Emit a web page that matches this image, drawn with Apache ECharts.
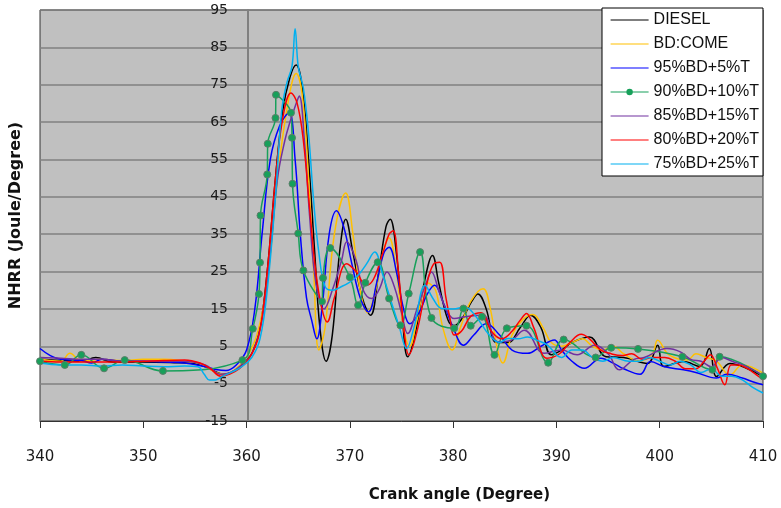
<!DOCTYPE html>
<html>
<head>
<meta charset="utf-8">
<title>NHRR vs crank angle</title>
<script src="https://cdn.jsdelivr.net/npm/echarts@6/dist/echarts.min.js"></script>
<style>
  html, body { margin: 0; padding: 0; background: #fff; }
  #chart { width: 781px; height: 508px; }
</style>
</head>
<body>
<div id="chart"></div>
<script>
// series names, in legend order
var seriesNames = ["DIESEL", "BD:COME", "95%BD+5%T", "90%BD+10%T", "85%BD+15%T", "80%BD+20%T", "75%BD+25%T"];

// [crank angle, NHRR]
var diesel = [[340,1.5],[342,1.2],[344,1.0],[345.4,2.0],[347,0.8],[350,0.8],[353,0.6],[355,0.3],[356,-0.5],[357,-1.8],[357.8,-2.5],[358.5,-2.0],[359.5,0],[360.5,3],[361.3,10],[362,25],[362.8,50],[363.5,68],[364.2,77],[364.8,80.3],[365.4,74],[366,55],[366.6,30],[367.1,10],[367.7,1],[368.3,8],[369,30],[369.6,39],[370.3,30],[371.2,18],[372,13.3],[372.8,25],[373.5,37],[373.9,39],[374.5,30],[375.1,12],[375.6,2.2],[376.3,8],[377.2,22],[378,29.3],[378.6,22],[379.5,12],[380.1,10.5],[381,13],[381.8,17],[382.4,19],[383.2,15],[384.2,6],[385.3,6],[386.5,10],[387.5,13.3],[388.5,10],[389.5,2.7],[390.5,4],[391.5,6],[393.2,7.5],[394.8,2.2],[396.5,2],[398.8,0.4],[399.8,5.3],[400.4,-0.4],[402.3,0.9],[403.9,-0.4],[404.8,4.4],[405.5,-3.1],[406.8,0.4],[408.5,-1],[410,-3.1]];
var bdCome = [[340,1.5],[342,1.0],[342.9,3.1],[344,1.0],[346,1.5],[348,1.2],[350,1.5],[352,1.5],[354,1.0],[355.5,0.3],[357,-2],[358,-2.5],[359,-1],[360,2],[361,8],[362,22],[363,50],[364,70],[364.8,78],[365.4,72],[366,50],[366.5,25],[367,4],[367.6,10],[368.5,35],[369.6,46],[370.3,35],[371,20],[371.7,14],[372.5,20],[373.2,30],[373.8,34],[374.5,25],[375.2,10],[375.8,5],[376.5,12],[377.5,22],[378.3,20],[379,10],[379.9,4],[380.7,10],[381.7,17],[382.9,20.4],[383.6,15],[384.3,4],[384.8,0.5],[385.7,8],[386.7,12],[387.7,13.5],[388.7,10],[389.5,6],[390.5,5],[391.5,6],[392.5,7],[393.5,5],[394.5,4],[395.5,5],[396.5,3],[398,1],[399.3,3],[399.8,6.6],[400.9,2.7],[402.7,1.3],[403.5,3],[404.5,2],[405.5,1],[406.8,-2.7],[408,0],[410,-2.2]];
var bd95 = [[340,4.4],[341,2.5],[342,1.5],[344,1.2],[345,0.5],[346,1.5],[348,1.0],[350,1.0],[352,0.8],[354,0.5],[356,-0.5],[357,-1.2],[358,-1.5],[359,0],[360,4],[360.8,15],[361.5,35],[362.3,55],[363.2,64],[364.1,67.5],[364.7,55],[365.2,35],[365.8,18],[366.3,12],[366.8,7],[367.3,15],[368,35],[368.7,41.3],[369.4,37],[370.2,27],[371,18],[371.8,14.2],[372.6,22],[373.3,30],[373.8,31.5],[374.5,25],[375.2,15],[375.8,11],[376.7,14],[377.5,19],[378.2,21.3],[379,17],[380,10],[381,5.3],[382,8],[383.2,11],[384.5,8],[385.7,4],[387.2,3.1],[388.5,5],[389.8,6.7],[390.5,4],[391.5,1],[392.7,-0.9],[394.3,1.8],[395.5,0.5],[396.5,-1],[398.1,-2.5],[399.1,0.9],[400.5,-0.5],[402.3,-1.3],[403.5,-2],[405.5,-3.5],[406.5,-2.5],[408,-3.5],[409,-4.5],[410,-5.3]];
var bd90 = [[340,1.0],[342.4,0.0],[344.0,2.7],[346.2,-0.9],[348.2,1.3],[351.9,-1.6],[359.6,1.3],[360.6,9.7],[361.2,19],[361.3,27.4],[361.35,40],[362.0,51],[362.05,59.2],[362.8,66.1],[362.85,72.3],[364.3,67.5],[364.4,60.8],[364.45,48.5],[365.0,35.2],[365.5,25.3],[367.3,17],[367.4,23.3],[368.1,31.3],[370.0,23.5],[370.8,16],[371.5,22],[372.7,27.5],[373.8,17.8],[374.9,10.6],[375.7,19.1],[376.8,30.2],[377.9,12.6],[380.1,9.8],[381.0,15.1],[381.7,10.5],[382.8,12.9],[384.0,2.7],[385.2,9.8],[387.1,10.5],[389.2,0.6],[390.7,6.8],[393.8,2.0],[395.3,4.6],[397.9,4.3],[402.2,2.2],[405.1,-1.3],[405.8,2.2],[410,-3.0]];
var bd85 = [[340,2.0],[342,1.8],[344,1.5],[346,1.5],[348,1.0],[350,1.0],[352,1.0],[354,1.0],[356,0],[357.5,-2.5],[358.5,-2],[359.5,0],[360.5,3],[361.5,12],[362.3,30],[363,50],[363.7,60],[364.2,65],[364.8,70],[365.1,72],[365.6,60],[366.1,40],[366.7,22],[367.5,15],[368.3,20],[369.2,28],[369.7,33],[370.6,28],[371.3,20],[372.1,17.8],[372.8,20],[373.6,24.9],[374.3,21],[375,14],[375.6,8.4],[376.5,15],[377.4,22],[377.9,24.9],[378.6,20],[379.3,15],[380.1,12.4],[381.3,13],[382.9,13.3],[384.3,6.2],[385.5,6.5],[386.9,9.3],[388.8,3.1],[390.5,4],[392,2.7],[393.7,5.3],[395,3],[396.1,-1.3],[397.5,1.5],[398.5,2],[400.7,4.4],[402,3.5],[403,1.5],[404,1],[405,-0.5],[406,2],[407,1],[408.5,-0.5],[410,-2.8]];
var bd80 = [[340,1.0],[342,0.8],[344,0.8],[346,0.8],[348,0.8],[350,1.0],[352,1.2],[354,1.3],[355.5,0.5],[356.5,-1],[357.5,-3],[358.3,-2.5],[359.3,-1],[360.3,2],[361.2,8],[362,25],[362.8,50],[363.5,66],[364.3,72.8],[364.9,70],[365.5,60],[366.1,42],[366.7,25],[367.3,15],[367.8,11.5],[368.5,18],[369.7,27.1],[370.6,25],[371.6,21.3],[372.3,23],[373.2,30],[373.8,35],[374.2,35.9],[374.7,25],[375.3,8],[375.7,2.7],[376.5,9],[377.4,21],[378.1,27],[378.7,27.5],[379.3,18],[379.7,12.4],[380.1,8],[380.8,9],[381.7,13],[382.7,14],[383.7,9],[384.7,7],[385.7,9],[386.5,12],[387.1,13.8],[387.8,10],[389.1,1.8],[390.3,3],[391.3,6],[392.4,8.2],[393.2,7],[394.3,4],[395.3,3],[396.3,2.5],[397.3,3],[398.3,1.5],[399.3,2],[400.5,2],[401.5,1],[402.5,-1],[403.5,-1],[404.3,1],[404.9,2.7],[405.6,-1],[406.3,-5.3],[406.9,0],[407.6,0],[408.5,-1],[409.3,-2.5],[410,-3.9]];
var bd75 = [[340,0.5],[342,0],[344,0],[346,-0.3],[348,0],[350,-0.3],[352,-0.5],[354,-0.3],[355.3,-0.5],[355.9,-2.5],[356.4,-4],[357,-4],[357.7,-3],[358.5,-2],[359.5,-0.5],[360.5,2],[361.3,7],[362,20],[362.8,45],[363.4,68],[363.9,75.5],[364.4,80],[364.7,90],[365.0,80],[365.5,74],[366,62],[366.5,43.6],[367,30],[367.6,21],[368.3,20],[369.2,21],[370,22.2],[370.8,24],[371.6,27],[372.4,30.2],[373.2,24],[374,17],[374.8,10],[375.5,4.4],[376.2,10],[377.3,21.3],[378,18],[378.9,15.1],[380,15],[381.1,15.5],[382.2,13],[383.5,8],[384.5,6],[385.3,7.1],[386.3,7],[387.2,7.5],[388.2,6.5],[389.1,5.4],[390.5,2],[391.5,4],[392.5,4],[393.5,2],[394.5,1],[395.5,2],[397,1],[398,1],[399,2],[400,1],[401,0],[402,1],[403,0],[404,-2],[405,-1],[406,-3],[407,-3],[408,-4],[409,-6],[410,-7.5]];

// tick labels
var xTicks = [340, 350, 360, 370, 380, 390, 400, 410];
var yTicks = [-15, -5, 5, 15, 25, 35, 45, 55, 65, 75, 85, 95];

var seriesColors = ["#000000", "#ffc000", "#0000ff", "#17a05a", "#7030a0", "#ff0000", "#00b0f0"];
var seriesData = [diesel, bdCome, bd95, bd90, bd85, bd80, bd75];
var markerIndex = 3;

var voChart = echarts.init(document.getElementById("chart"));

var voSeries = seriesData.map(function(each, i){
	var withMarker = (i === markerIndex);
	return {
		name: seriesNames[i],
		type: "line",
		data: each,
		smooth: 0.4,
		symbol: withMarker ? "circle" : "none",
		symbolSize: 7,
		showSymbol: withMarker,
		itemStyle: { color: seriesColors[i], borderColor: "#5b7d69", borderWidth: 1 },
		lineStyle: { color: seriesColors[i], width: 1.5 }
	};
});

// only the green series shows its marker in the legend
var voLegendData = seriesNames.map(function(name, i){
	if (i === markerIndex) {
		return { name: name, itemStyle: { borderWidth: 0 } };
	}
	return { name: name, itemStyle: { opacity: 0 } };
});

var voOption = {
	animation: false,
	backgroundColor: "#ffffff",
	grid: {
		left: 37,
		right: 18,
		top: 10,
		bottom: 85,
		show: true,
		backgroundColor: "#c0c0c0",
		borderColor: "#333333",
		borderWidth: 1
	},
	legend: {
		orient: "vertical",
		left: 602,
		top: 8,
		width: 161,
		padding: [4, 4, 4, 8],
		itemGap: 8,
		itemWidth: 38,
		itemHeight: 8,
		backgroundColor: "#ffffff",
		borderColor: "#000000",
		borderWidth: 1,
		lineStyle: { width: 1.2 },
		textStyle: { fontFamily: "Liberation Sans", fontSize: 16, color: "#111111", lineHeight: 14 },
		data: voLegendData
	},
	xAxis: {
		type: "value",
		min: xTicks[0],
		max: xTicks[xTicks.length - 1],
		interval: 10,
		name: "Crank angle (Degree)",
		nameLocation: "middle",
		nameGap: 67,
		nameTextStyle: { fontFamily: "DejaVu Sans", fontSize: 15, fontWeight: "bold", color: "#111111", padding: [0, 0, 0, 116] },
		axisLine: { show: true, onZero: false, lineStyle: { color: "#333333", width: 1 } },
		axisTick: { show: true, length: 7, lineStyle: { color: "#333333" } },
		axisLabel: { fontFamily: "DejaVu Sans", fontSize: 15, color: "#1a1a1a", margin: 29 },
		splitLine: { show: false }
	},
	yAxis: {
		type: "value",
		min: yTicks[0],
		max: yTicks[yTicks.length - 1],
		interval: 10,
		position: "left",
		offset: -208,
		name: "NHRR (Joule/Degree)",
		nameLocation: "middle",
		nameGap: 224,
		nameTextStyle: { fontFamily: "DejaVu Sans", fontSize: 16, fontWeight: "bold", color: "#111111" },
		axisLine: { show: true, onZero: false, lineStyle: { color: "#808080", width: 2 } },
		axisTick: { show: false },
		axisLabel: { fontFamily: "DejaVu Sans", fontSize: 14, color: "#1a1a1a", margin: 20 },
		splitLine: { show: true, lineStyle: { color: "#808080", width: 1.5 } }
	},
	series: voSeries
};

voChart.setOption(voOption);
</script>
</body>
</html>
